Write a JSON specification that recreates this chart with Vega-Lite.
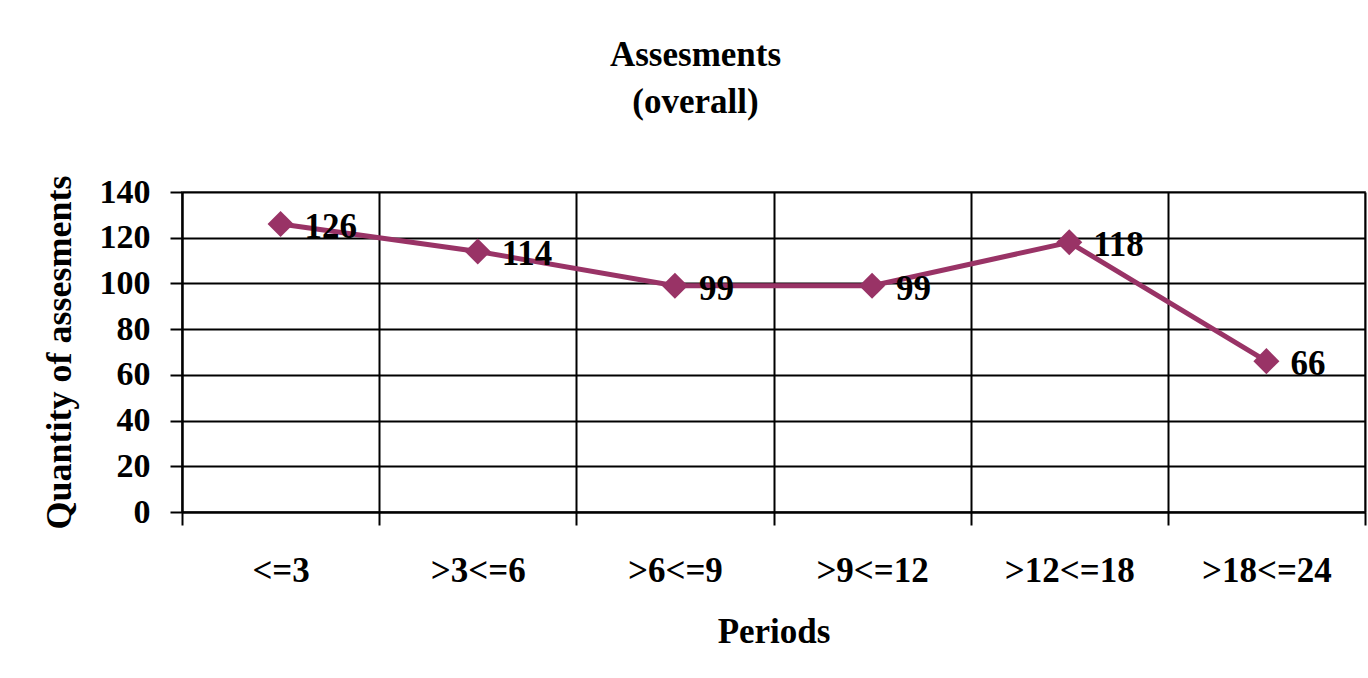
{
  "$schema": "https://vega.github.io/schema/vega-lite/v6.json",
  "autosize": {"type": "none"},
  "width": 1183,
  "height": 320,
  "padding": {"left": 182, "top": 192, "right": 3, "bottom": 166},
  "background": "white",
  "config": {
    "font": "Liberation Serif",
    "view": {"stroke": "#808080", "strokeWidth": 2}
  },
  "title": {
    "text": ["Assesments", "(overall)"],
    "fontSize": 35,
    "fontWeight": "bold",
    "font": "Liberation Serif",
    "color": "black",
    "lineHeight": 47,
    "anchor": "middle",
    "dx": -78,
    "offset": 20,
    "baseline": "bottom"
  },
  "data": {
    "values": [
      {"period": "<=3", "count": 126},
      {"period": ">3<=6", "count": 114},
      {"period": ">6<=9", "count": 99},
      {"period": ">9<=12", "count": 99},
      {"period": ">12<=18", "count": 118},
      {"period": ">18<=24", "count": 66}
    ]
  },
  "encoding": {
    "x": {
      "field": "period",
      "type": "nominal",
      "sort": null,
      "scale": {"paddingInner": 0, "paddingOuter": 0},
      "axis": {
        "title": "Periods",
        "labelAngle": 0,
        "tickBand": "extent",
        "grid": true,
        "gridColor": "black",
        "gridWidth": 2,
        "gridOpacity": 1,
        "domainColor": "black",
        "domainWidth": 2,
        "tickColor": "black",
        "tickWidth": 2,
        "tickSize": 13,
        "labelFont": "Liberation Serif",
        "labelFontWeight": "bold",
        "labelFontSize": 35,
        "labelColor": "black",
        "labelPadding": 28,
        "titleFont": "Liberation Serif",
        "titleFontWeight": "bold",
        "titleFontSize": 35,
        "titleColor": "black",
        "titlePadding": 26
      }
    },
    "y": {
      "field": "count",
      "type": "quantitative",
      "scale": {"domain": [0, 140], "nice": false},
      "axis": {
        "title": "Quantity of assesments",
        "values": [0, 20, 40, 60, 80, 100, 120, 140],
        "grid": true,
        "gridColor": "black",
        "gridWidth": 2,
        "gridOpacity": 1,
        "domainColor": "black",
        "domainWidth": 2,
        "tickColor": "black",
        "tickWidth": 2,
        "tickSize": 12,
        "labelFont": "Liberation Serif",
        "labelFontWeight": "bold",
        "labelFontSize": 34,
        "labelColor": "black",
        "labelPadding": 20,
        "titleFont": "Liberation Serif",
        "titleFontWeight": "bold",
        "titleFontSize": 36,
        "titleColor": "black",
        "titlePadding": 21
      }
    }
  },
  "layer": [
    {
      "mark": {"type": "line", "color": "#993366", "strokeWidth": 5}
    },
    {
      "mark": {"type": "point", "shape": "diamond", "filled": true, "color": "#993366", "opacity": 1, "size": 680}
    },
    {
      "mark": {"type": "text", "align": "left", "baseline": "middle", "dx": 24, "dy": 3, "fontSize": 35, "fontWeight": "bold", "font": "Liberation Serif", "color": "black"},
      "encoding": {"text": {"field": "count", "type": "quantitative"}}
    }
  ]
}
